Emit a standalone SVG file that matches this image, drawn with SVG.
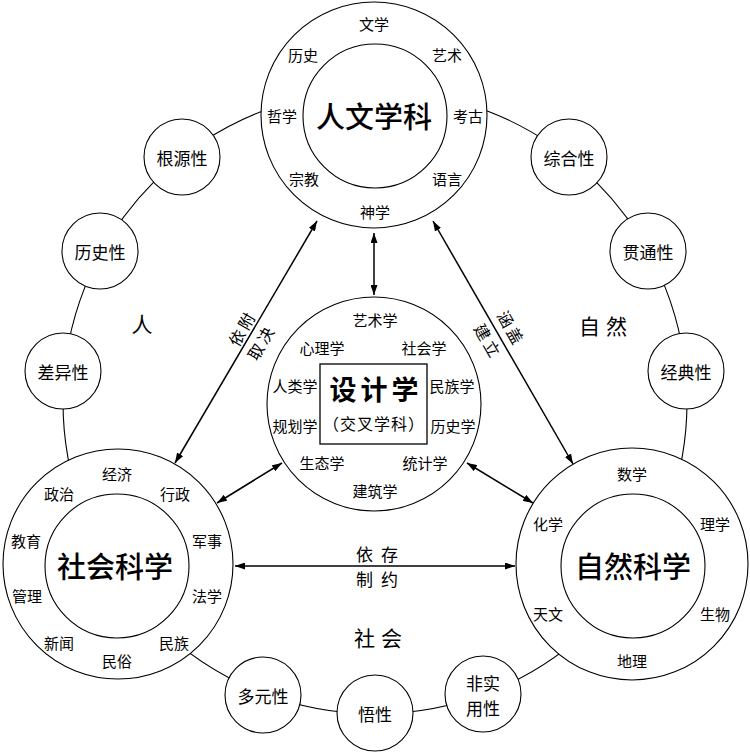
<svg xmlns="http://www.w3.org/2000/svg" width="750" height="752" viewBox="0 0 750 752">
<defs>
<style>
text{font-family:"Noto Sans CJK SC","Noto Sans",sans-serif;fill:#000;text-anchor:middle;dominant-baseline:central}
.s{font-size:15px}
.m{font-size:17px}
.b{font-size:29px;font-weight:500}
.r{font-size:21px}
.c{fill:#fff;stroke:#000;stroke-width:1.1}
.ring{fill:none;stroke:#000;stroke-width:1.1}
.a{stroke:#000;stroke-width:1.5;fill:none;marker-start:url(#ah);marker-end:url(#ah)}
</style>
<marker id="ah" viewBox="0 0 10 7" refX="10" refY="3.5" markerWidth="10" markerHeight="7" markerUnits="userSpaceOnUse" orient="auto-start-reverse">
<path d="M0,0 L10,3.5 L0,7 z" fill="#000"/>
</marker>
</defs>
<rect width="750" height="752" fill="#fff"/>
<circle class="ring" cx="375" cy="402" r="312"/>

<g id="renwen">
<circle class="c" cx="374" cy="115" r="113"/>
<circle class="c" cx="375" cy="116" r="72"/>
<text class="b" x="374" y="115">人文学科</text>
<text class="s" x="374" y="23">文学</text>
<text class="s" x="303" y="54">历史</text>
<text class="s" x="447" y="54">艺术</text>
<text class="s" x="282" y="115">哲学</text>
<text class="s" x="468" y="115">考古</text>
<text class="s" x="304" y="178">宗教</text>
<text class="s" x="447" y="178">语言</text>
<text class="s" x="375" y="211">神学</text>
</g>

<g id="sheke">
<circle class="c" cx="118" cy="564" r="115"/>
<circle class="c" cx="117" cy="566" r="72"/>
<text class="b" x="115" y="565">社会科学</text>
<text class="s" x="117" y="473">经济</text>
<text class="s" x="59" y="493">政治</text>
<text class="s" x="175" y="493">行政</text>
<text class="s" x="26" y="540">教育</text>
<text class="s" x="207" y="540">军事</text>
<text class="s" x="27" y="595">管理</text>
<text class="s" x="207" y="595">法学</text>
<text class="s" x="59" y="642">新闻</text>
<text class="s" x="174" y="642">民族</text>
<text class="s" x="117" y="660">民俗</text>
</g>

<g id="ziran">
<circle class="c" cx="632" cy="564" r="116"/>
<circle class="c" cx="633" cy="566" r="72"/>
<text class="b" x="633" y="565">自然科学</text>
<text class="s" x="632" y="473">数学</text>
<text class="s" x="548" y="523">化学</text>
<text class="s" x="715" y="523">理学</text>
<text class="s" x="548" y="613">天文</text>
<text class="s" x="715" y="613">生物</text>
<text class="s" x="632" y="660">地理</text>
</g>

<g id="sheji">
<circle class="c" cx="374" cy="404" r="107"/>
<rect x="320" y="364" width="107" height="80" fill="none" stroke="#000" stroke-width="1.3"/>
<text x="376" y="388" style="font-size:27px;font-weight:700;letter-spacing:4px">设计学</text>
<text x="374" y="423" style="font-size:16px;letter-spacing:1px">（交叉学科）</text>
<text class="s" x="375" y="319">艺术学</text>
<text class="s" x="322" y="347">心理学</text>
<text class="s" x="424" y="347">社会学</text>
<text class="s" x="295" y="385">人类学</text>
<text class="s" x="452" y="385">民族学</text>
<text class="s" x="295" y="425">规划学</text>
<text class="s" x="453" y="425">历史学</text>
<text class="s" x="322" y="462">生态学</text>
<text class="s" x="425" y="462">统计学</text>
<text class="s" x="375" y="490">建筑学</text>
</g>

<g id="genyuan"><circle class="c" cx="182" cy="157" r="38"/><text class="m" x="182" y="157">根源性</text></g>
<g id="lishi"><circle class="c" cx="100" cy="251" r="38"/><text class="m" x="100" y="251">历史性</text></g>
<g id="chayi"><circle class="c" cx="63" cy="371" r="38"/><text class="m" x="63" y="371">差异性</text></g>
<g id="zonghe"><circle class="c" cx="569" cy="157" r="38"/><text class="m" x="569" y="157">综合性</text></g>
<g id="guantong"><circle class="c" cx="648" cy="251" r="38"/><text class="m" x="648" y="251">贯通性</text></g>
<g id="jingdian"><circle class="c" cx="686" cy="371" r="38"/><text class="m" x="686" y="371">经典性</text></g>
<g id="duoyuan"><circle class="c" cx="263" cy="695" r="38"/><text class="m" x="263" y="695">多元性</text></g>
<g id="wuxing"><circle class="c" cx="375" cy="713" r="38"/><text class="m" x="375" y="713">悟性</text></g>
<g id="feishiyong"><circle class="c" cx="483" cy="694" r="38"/><text class="m" x="483" y="682">非实</text><text class="m" x="483" y="707">用性</text></g>

<g id="regions">
<text class="r" x="142" y="323">人</text>
<text class="r" x="606" y="325" style="letter-spacing:6px">自然</text>
<text class="r" x="381" y="637" style="letter-spacing:6px">社会</text>
</g>

<g id="connectors">
<line class="a" x1="374" y1="233" x2="374" y2="295"/>
<line class="a" x1="175" y1="463" x2="317" y2="221"/>
<line class="a" x1="433" y1="221" x2="573" y2="464"/>
<line class="a" x1="282" y1="463" x2="217" y2="503"/>
<line class="a" x1="467" y1="463" x2="533" y2="503"/>
<line class="a" x1="235" y1="566" x2="515" y2="566"/>
<text x="241" y="329" transform="rotate(-60 241 329)" style="font-size:16px;letter-spacing:3px" dx="1.5">依附</text>
<text x="260" y="343" transform="rotate(-60 260 343)" style="font-size:16px;letter-spacing:3px" dx="1.5">取决</text>
<text x="511" y="327" transform="rotate(60 511 327)" style="font-size:16px;letter-spacing:3px" dx="1.5">涵盖</text>
<text x="488" y="340" transform="rotate(60 488 340)" style="font-size:16px;letter-spacing:3px" dx="1.5">建立</text>
<text class="m" x="377" y="553" style="letter-spacing:8px" dx="4">依存</text>
<text class="m" x="377" y="578" style="letter-spacing:8px" dx="4">制约</text>
</g>
</svg>
